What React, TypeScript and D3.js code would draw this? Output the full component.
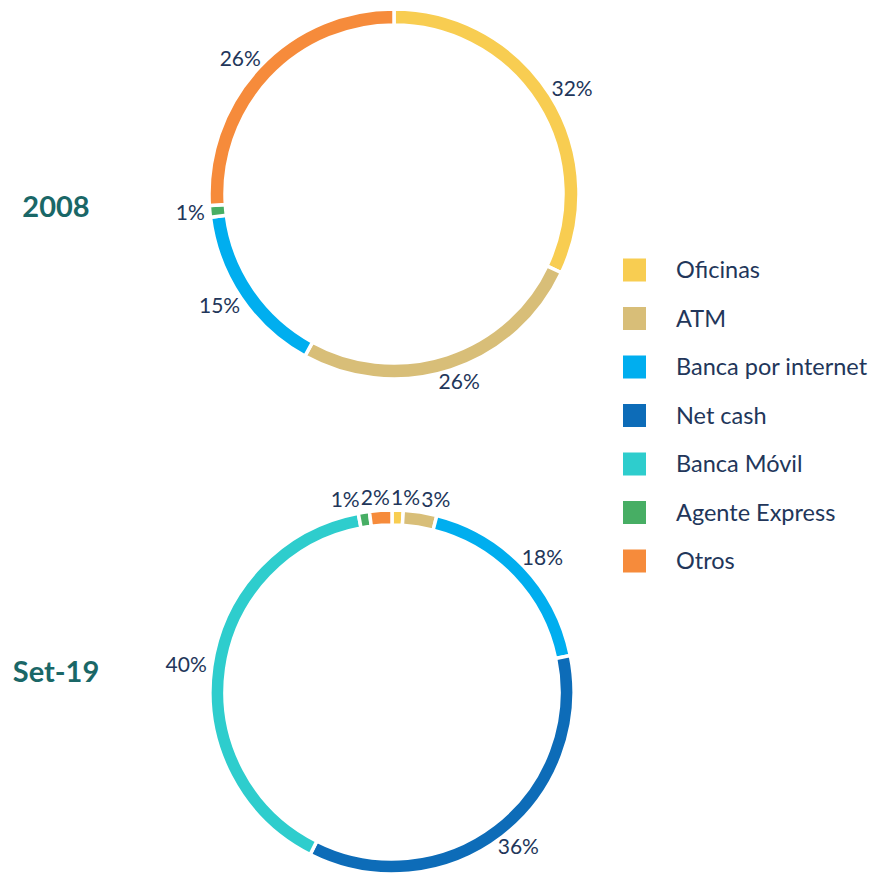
import React from "react";
import * as d3 from "d3";

const categories = ["Oficinas", "ATM", "Banca por internet", "Net cash", "Banca Móvil", "Agente Express", "Otros"];
const colors = ["#F8CD51", "#D8BE78", "#00AEEF", "#0D6CB8", "#2ECDCD", "#47AE64", "#F68B3B"];
const values2008 = [32, 26, 15, 0, 0, 1, 26];
const valuesSet19 = [1, 3, 18, 36, 40, 1, 2];
const chartTitles = ["2008", "Set-19"];

const W = 882;
const H = 875;
const LABEL_FONT = 21;
const LABEL_COLOR = "#22365A";
const TITLE_COLOR = "#1A6767";
const FONT = "Lato, 'Open Sans', sans-serif";

type Label = { text: string; x: number; y: number; w: number };

function Donut({ values, cx, cy, rOut, rIn, title, titleY }: { values: number[]; cx: number; cy: number; rOut: number; rIn: number; title: string; titleY: number }) {
  const pie = d3.pie<number>().sort(null).value((d) => d);
  const arcs = pie(values);
  const arcGen = d3.arc<d3.PieArcDatum<number>>().innerRadius(rIn).outerRadius(rOut);
  const total = d3.sum(values);

  // initial label placement at the centroid angle, pushed outside the ring
  const labels: Label[] = [];
  arcs.forEach((a) => {
    if (a.data <= 0) return;
    const text = `${Math.round((a.data / total) * 100)}%`;
    const ang = (a.startAngle + a.endAngle) / 2;
    const w = text.length * LABEL_FONT * 0.6;
    const hc = LABEL_FONT * 0.72;
    const r = rOut + 5;
    const px = Math.sin(ang) * r;
    const py = -Math.cos(ang) * r;
    labels.push({ text, x: px + Math.sin(ang) * (w / 2 + 2), y: py - Math.cos(ang) * (hc / 2), w });
  });
  // resolve horizontal overlaps
  for (let it = 0; it < 200; it++) {
    let moved = false;
    for (let i = 0; i < labels.length; i++) {
      for (let j = 0; j < labels.length; j++) {
        if (i === j) continue;
        const a = labels[i];
        const b = labels[j];
        if (Math.abs(a.y - b.y) > LABEL_FONT) continue;
        if (a.x > b.x) continue;
        const need = (a.w + b.w) / 2 + 5;
        const d = b.x - a.x;
        if (d < need) {
          const push = (need - d) / 2;
          a.x -= push;
          b.x += push;
          moved = true;
        }
      }
    }
    if (!moved) break;
  }

  return (
    <g>
      <g transform={`translate(${cx},${cy})`}>
        {arcs.map((a, i) =>
          a.data > 0 ? (
            <path key={i} d={arcGen(a) || ""} fill={colors[i]} stroke="#ffffff" strokeWidth={3.5} />
          ) : null
        )}
        {labels.map((l, i) => (
          <text
            key={i}
            x={l.x}
            y={l.y}
            dy="0.36em"
            textAnchor="middle"
            fontFamily={FONT}
            fontSize={LABEL_FONT}
            fontWeight={400}
            fill={LABEL_COLOR}
          >
            {l.text}
          </text>
        ))}
      </g>
      <text
        x={56}
        y={titleY}
        dy="0.36em"
        textAnchor="middle"
        fontFamily={FONT}
        fontSize={29}
        fontWeight={700}
        fill={TITLE_COLOR}
      >
        {title}
      </text>
    </g>
  );
}

export default function App() {
  const legendY = d3.scalePoint<string>().domain(categories).range([270, 561]);
  return (
    <svg width={W} height={H} style={{ position: "absolute", left: 0, top: 0 }}>
      <rect width={W} height={H} fill="#ffffff" />
      <Donut values={values2008} cx={394} cy={194} rOut={185} rIn={169} title={chartTitles[0]} titleY={207} />
      <Donut values={valuesSet19} cx={392} cy={692} rOut={182} rIn={167} title={chartTitles[1]} titleY={672} />
      <g>
        {categories.map((c, i) => (
          <g key={c} transform={`translate(623,${legendY(c)})`}>
            <rect x={0} y={-11.5} width={23} height={23} fill={colors[i]} />
            <text
              x={53}
              y={0}
              dy="0.36em"
              fontFamily={FONT}
              fontSize={23.5}
              fontWeight={400}
              fill={LABEL_COLOR}
            >
              {c}
            </text>
          </g>
        ))}
      </g>
    </svg>
  );
}
